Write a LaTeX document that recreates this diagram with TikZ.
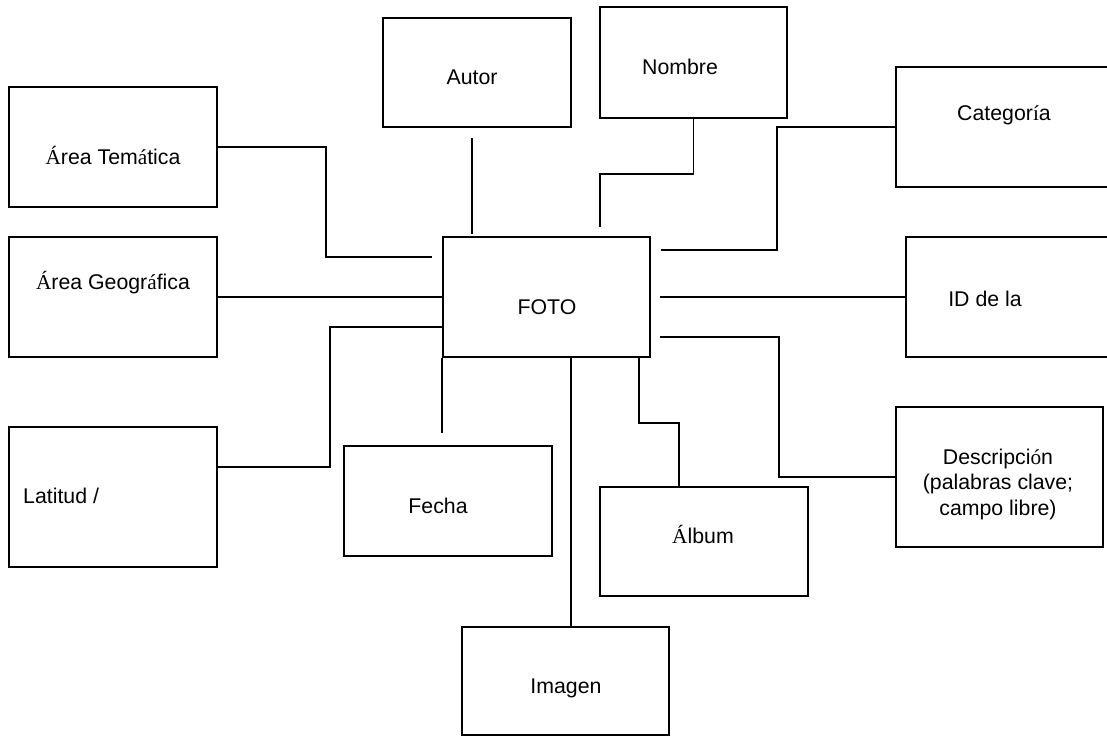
\documentclass[tikz,border=0pt]{standalone}
\usepackage{fontspec}
\setmainfont{Liberation Sans}
\newfontfamily\tmsfont{Liberation Serif}
\newcommand\acc[1]{{\tmsfont #1}}
\begin{document}
\begin{tikzpicture}[x=1pt,y=-1pt,
  box/.style={draw,line width=1.9pt,inner sep=0pt,rectangle},
  txt/.style={inner sep=0pt,anchor=base,font=\fontsize{21.3}{25.5}\selectfont},
  conn/.style={line width=1.9pt}]
\useasboundingbox (0,0) rectangle (1107,737);
\clip (0,0) rectangle (1107,737);
\fill[white] (0,0) rectangle (1107,737);
% boxes
\node[box,minimum width=188pt,minimum height=109pt] (autor) at (477,72.5) {};
\node[box,minimum width=187pt,minimum height=111pt] (nombre) at (693.5,62.5) {};
\node[box,minimum width=224pt,minimum height=120pt] (categoria) at (1008,127) {};
\node[box,minimum width=208pt,minimum height=120pt] (tematica) at (113,147) {};
\node[box,minimum width=208pt,minimum height=120pt] (geografica) at (113,297) {};
\node[box,minimum width=207pt,minimum height=120pt] (foto) at (546.5,297) {};
\node[box,minimum width=214pt,minimum height=120pt] (id) at (1013,297) {};
\node[box,minimum width=208pt,minimum height=140pt] (latitud) at (113,497) {};
\node[box,minimum width=208pt,minimum height=110pt] (fecha) at (448,501) {};
\node[box,minimum width=208pt,minimum height=109pt] (album) at (704,541.5) {};
\node[box,minimum width=207pt,minimum height=140pt] (descripcion) at (999.5,477) {};
\node[box,minimum width=207pt,minimum height=108pt] (imagen) at (565.5,681) {};
% texts
\node[txt] (tautor) at (472,84) {Autor};
\node[txt] (tnombre) at (680,74) {Nombre};
\node[txt] (tcategoria) at (1004,120) {Categor\acc{í}a};
\node[txt] (ttematica) at (113,164) {\acc{Á}rea Tem\acc{á}tica};
\node[txt] (tgeografica) at (113,289) {\acc{Á}rea Geogr\acc{á}fica};
\node[txt] (tfoto) at (547,314) {FOTO};
\node[txt] (tid) at (985,306) {ID de la};
\node[txt,anchor=base west] (tlatitud) at (23,503) {Latitud /};
\node[txt] (tfecha) at (438,513) {Fecha};
\node[txt] (talbum) at (703,543) {\acc{Á}lbum};
\node[txt] (timagen) at (566,693) {Imagen};
\node[txt,align=center,anchor=base] (tdesc) at (998,515) {Descripci\acc{ó}n\\(palabras clave;\\campo libre)};
% connectors
\draw[conn] ([xshift=-5pt,yshift=-10pt]autor.south) -- ([xshift=-5pt,yshift=2pt]autor.south |- foto.north);
\draw[conn] (nombre.south) -- ++(0,55) -| ([xshift=53.5pt,yshift=9pt]foto.north);
\draw[conn] (categoria.west) -- ++(-118,0) |- ([xshift=10pt,yshift=47pt]foto.east);
\draw[conn] (tematica.east) -- ++(108,0) |- ([xshift=-10pt,yshift=40pt]foto.west);
\draw[conn] (geografica.east) -- (foto.west);
\draw[conn] ([xshift=9pt]foto.east) -- (id.west);
\draw[conn] ([yshift=30pt]latitud.east) -- ++(112,0) |- ([yshift=-30pt]foto.west);
\draw[conn] (foto.south west) -- ([yshift=12pt]foto.south west |- fecha.north);
\draw[conn] ([xshift=24.5pt]foto.south) -- ([xshift=24.5pt]foto.south |- imagen.north);
\draw[conn] ([xshift=92.5pt]foto.south) -- ++(0,65) -| ([xshift=-25pt]album.north);
\draw[conn] ([xshift=9pt,yshift=-40pt]foto.east) -- ++(119,0) |- (descripcion.west);
\end{tikzpicture}
\end{document}
